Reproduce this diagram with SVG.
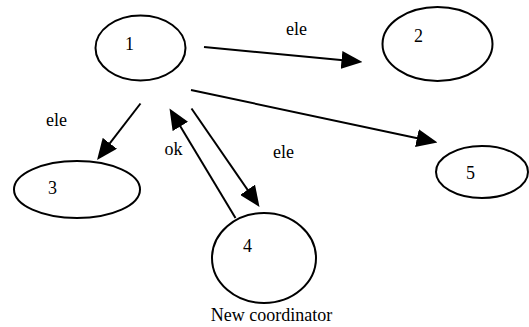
<svg xmlns="http://www.w3.org/2000/svg" width="529" height="327" viewBox="0 0 529 327">
  <style>
    .node { fill: #fff; stroke: #000; stroke-width: 2; }
    .edge { fill: none; stroke: #000; stroke-width: 2; }
    text { font-family: "Liberation Serif", "Times New Roman", serif; font-size: 18px; fill: #000; }
  </style>
  <defs>
    <marker id="arrow" markerUnits="userSpaceOnUse" markerWidth="21" markerHeight="18" refX="15" refY="9" orient="auto">
      <path d="M0,0 L21,9 L0,18 z" fill="#000"/>
    </marker>
  </defs>
  <rect width="529" height="327" fill="#fff"/>

  <g id="connectors">
    <line class="edge" x1="204" y1="47" x2="356.5" y2="61.4" marker-end="url(#arrow)"/>
    <line class="edge" x1="191" y1="90" x2="431.6" y2="141.25" marker-end="url(#arrow)"/>
    <line class="edge" x1="140.5" y1="103.5" x2="100.7" y2="155.2" marker-end="url(#arrow)"/>
    <line class="edge" x1="235.5" y1="218" x2="172.6" y2="113.6" marker-end="url(#arrow)"/>
    <line class="edge" x1="191.5" y1="108.5" x2="256.1" y2="202.1" marker-end="url(#arrow)"/>
    <text x="286" y="35">ele</text>
    <text x="46" y="126">ele</text>
    <text x="273" y="158">ele</text>
    <text x="164.5" y="155">ok</text>
  </g>

  <g id="node1">
    <ellipse class="node" cx="140.5" cy="48" rx="45" ry="32.5"/>
    <text x="125" y="50">1</text>
  </g>
  <g id="node2">
    <ellipse class="node" cx="437.5" cy="44" rx="55" ry="37"/>
    <text x="414" y="42">2</text>
  </g>
  <g id="node3">
    <ellipse class="node" cx="77" cy="189.5" rx="63" ry="28.5"/>
    <text x="48" y="194">3</text>
  </g>
  <g id="node4">
    <ellipse class="node" cx="264" cy="258" rx="52" ry="45"/>
    <text x="243" y="252">4</text>
    <text x="271.5" y="321" text-anchor="middle">New coordinator</text>
  </g>
  <g id="node5">
    <ellipse class="node" cx="482" cy="172" rx="46" ry="26"/>
    <text x="466" y="179">5</text>
  </g>
</svg>
